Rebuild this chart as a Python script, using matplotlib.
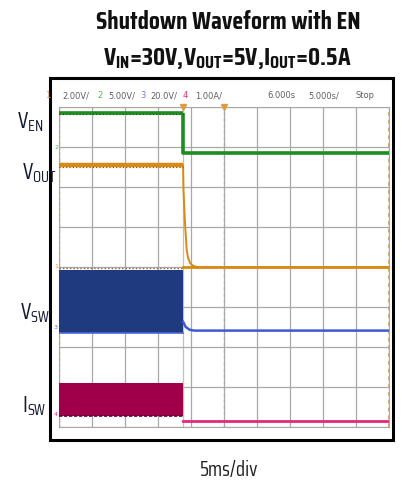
import matplotlib
matplotlib.use("Agg")
import matplotlib.pyplot as plt
from matplotlib import font_manager as fm
from matplotlib.patches import Rectangle

# pick a narrow display face close to the scope-capture lettering
_have = {f.name for f in fm.fontManager.ttflist}
_cands = ["Saira Condensed", "Barlow Condensed", "Pathway Gothic One",
          "Oswald", "Roboto Condensed", "Liberation Sans Narrow"]
NARROW = [n for n in _cands if n in _have][:1] + ["DejaVu Sans"]
plt.rcParams.update({
    "font.family": NARROW,
    "axes.linewidth": 0.8,
})

# scope readings (time in ms, levels in screen divisions from the bottom)
t_end = 50.0            # 10 div x 5 ms
t_off = 18.8            # EN pulled low here

en_high, en_low = 7.85, 6.85

vout_t = [0, 18.79, 18.86, 19.09, 19.35, 19.55, 19.85, 20.3, 20.9, 50]
vout_v = [6.55, 6.55, 5.93, 5.10, 4.43, 4.23, 4.10, 4.03, 4.00, 4.00]

vsw_band = (2.35, 3.93)             # switching envelope before shutdown
vsw_t = [18.8, 19.2, 19.8, 20.5, 50]
vsw_v = [2.63, 2.50, 2.43, 2.41, 2.41]

isw_band = (0.28, 1.10)
isw_after = 0.16

ground_marks = [("1", 4.0, "#e09a40"), ("2", 6.98, "#4cb84c"),
                ("3", 2.48, "#5a6ee0"), ("4", 0.30, "#e0307a")]

header = [("1", "#e6a050", 45), ("2.00V/", "#606060", 62),
          ("2", "#50b850", 97), ("5.00V/", "#606060", 108),
          ("3", "#6a7ae0", 140), ("20.0V/", "#606060", 150),
          ("4", "#e0307a", 183), ("1.00A/", "#606060", 195),
          ("6.000s", "#606060", 267), ("5.000s/", "#606060", 308),
          ("Stop", "#606060", 355)]

W, H = 403, 484
fig = plt.figure(figsize=(W / 100, H / 100), dpi=100)
fig.patch.set_facecolor("white")

def fx(px):
    return px / W

def fy(py):
    return 1 - py / H

# outer scope frame
fig.patches.append(Rectangle((fx(50), fy(440)), 343 / W, 362 / H,
                             transform=fig.transFigure, fill=False,
                             ec="black", lw=2.2))

ax = fig.add_axes([fx(59), fy(427), 330 / W, 320 / H])
ax.set_xlim(0, t_end)
ax.set_ylim(0, 8)
ax.set_xticks([i * 5 for i in range(11)])
ax.set_yticks(range(9))
ax.tick_params(left=False, bottom=False, labelleft=False, labelbottom=False)
ax.grid(True, color="#a8a8a8", lw=0.9, zorder=0)
for s in ax.spines.values():
    s.set_color("#a8a8a8")

# center line, screen edges and trigger position
ax.axvline(25, color="#8c8c8c", lw=0.9, ls=(0, (2, 3)), zorder=1)
ax.axvline(0, color="#e0a860", lw=1.0, ls=(0, (2, 2)), zorder=1)
ax.axvline(t_end, color="#e0a860", lw=1.4, ls=(0, (2, 2)), zorder=1)
ax.axvline(t_off, color="#cdbfa8", lw=0.9, zorder=1)

# EN
ax.plot([0, t_off], [en_high, en_high], color="#1e8c1e", lw=2.6,
        solid_capstyle="butt", zorder=4)
ax.plot([0, t_off], [en_high - 0.03, en_high - 0.03], color="#0c4a0c",
        lw=0.8, ls=(0, (1, 2)), zorder=5)
ax.plot([t_off, t_off, t_end], [en_high, en_low, en_low], color="#1e8c1e",
        lw=2.6, solid_capstyle="butt", zorder=4)

# VOUT
ax.plot(vout_t, vout_v, color="#d88a14", lw=1.4, zorder=4)
ax.plot([0, t_off], [vout_v[0], vout_v[0]], color="#d88a14", lw=3.2,
        solid_capstyle="butt", zorder=4)
ax.plot([0, t_off], [vout_v[0] - 0.04, vout_v[0] - 0.04], color="#7a4a10",
        lw=0.8, ls=(0, (1, 2)), zorder=5)
ax.plot([t_off, t_end], [vout_v[-1], vout_v[-1]], color="#d88a14", lw=2.0,
        zorder=4)

# VSW
ax.fill_between([0, t_off], vsw_band[0], vsw_band[1], color="#203a80",
                lw=0, zorder=3)
ax.plot([0, t_off], [vsw_band[0], vsw_band[0]], color="#4a68d8", lw=1.2,
        zorder=3)
ax.plot([0, t_off], [vsw_band[1] + 0.05, vsw_band[1] + 0.05], color="#8a6a3a",
        lw=1.0, ls=(0, (1, 1.5)), zorder=3)
ax.plot(vsw_t, vsw_v, color="#3a5ad8", lw=1.8, zorder=4)

# ISW
ax.fill_between([0, t_off], isw_band[0], isw_band[1], color="#a0004a",
                lw=0, zorder=3)
ax.plot([0, t_off], [isw_band[0], isw_band[0]], color="#5a0030", lw=1.2,
        ls=(0, (2, 1)), zorder=3)
ax.plot([t_off, t_end], [isw_after, isw_after], color="#e4287a", lw=2.0,
        zorder=4)

# channel ground markers and trigger markers
for lab, lvl, c in ground_marks:
    ax.text(-0.15, lvl, lab, fontsize=4.5, color=c, ha="right", va="center",
            family="DejaVu Sans", clip_on=False)
ax.plot([t_off, 25], [8, 8], ls="none", marker="v", ms=4, color="#e09a40",
        clip_on=False, zorder=6)

# scope header row
for txt, c, px in header:
    fig.text(fx(px), fy(96), txt, fontsize=6, color=c, ha="left",
             va="center", family="DejaVu Sans")

# titles
fig.text(fx(228), fy(29), "Shutdown Waveform with EN", fontsize=18.2,
         fontweight="bold", ha="center", va="baseline", color="#111111")
fig.text(fx(227), fy(65),
         r"$\mathregular{V_{IN}}$=30V,$\mathregular{V_{OUT}}$=5V,"
         r"$\mathregular{I_{OUT}}$=0.5A",
         fontsize=18.2, fontweight="bold", ha="center", va="baseline",
         color="#111111")

# channel labels on the left
lab_kw = dict(fontsize=16, ha="left", va="baseline", color="#141a34")
fig.text(fx(17), fy(128), r"$\mathregular{V_{EN}}$", **lab_kw)
fig.text(fx(22), fy(179), r"$\mathregular{V_{OUT}}$", **lab_kw)
fig.text(fx(20), fy(319), r"$\mathregular{V_{SW}}$", **lab_kw)
fig.text(fx(22), fy(412), r"$\mathregular{I_{SW}}$", **lab_kw)

fig.text(fx(229), fy(476), "5ms/div", fontsize=14.8, ha="center",
         va="baseline", color="#222222")

fig.savefig("out.png", dpi=100, facecolor="white")
